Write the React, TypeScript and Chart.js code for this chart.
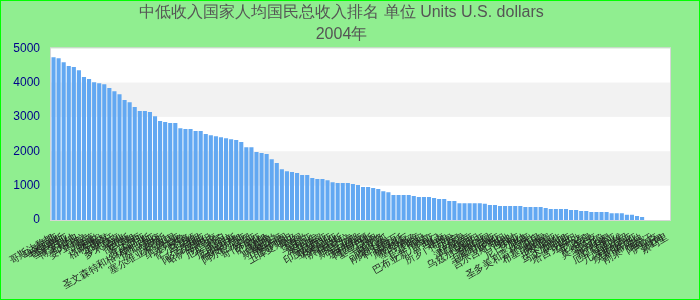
import React, { useEffect, useRef } from "react";
import { Chart, registerables } from "chart.js";

Chart.register(...registerables);

const TITLE_LINE_1 = "中低收入国家人均国民总收入排名 单位 Units U.S. dollars";
const TITLE_LINE_2 = "2004年";

const COUNTRIES: string[] = [
  "哥斯达黎加", "马来西亚", "毛里求斯", "圣卢西亚", "博茨瓦纳", "巴拿马", "委内瑞拉", "乌拉圭", "加蓬", "伯利兹",
  "格林纳达", "土耳其", "阿根廷", "多米尼克", "南非", "俄罗斯", "牙买加", "巴西", "罗马尼亚", "圣文森特和格林纳丁斯",
  "保加利亚", "斐济", "突尼斯", "塞尔维亚和黑山", "泰国", "纳米比亚", "秘鲁", "萨尔瓦多", "马其顿", "伊朗",
  "阿尔及利亚", "哈萨克斯坦", "苏里南", "厄瓜多尔", "约旦", "危地马拉", "白俄罗斯", "多米尼加", "阿尔巴尼亚", "波黑",
  "哥伦比亚", "萨摩亚", "汤加", "佛得角", "斯威士兰", "摩洛哥", "瓦努阿图", "土库曼斯坦", "埃及", "中国",
  "乌克兰", "叙利亚", "巴拉圭", "菲律宾", "印度尼西亚", "亚美尼亚", "格鲁吉亚", "洪都拉斯", "安哥拉", "斯里兰卡",
  "圭亚那", "玻利维亚", "阿塞拜疆", "基里巴斯", "不丹", "喀麦隆", "尼加拉瓜", "刚果（布）", "科特迪瓦", "莱索托",
  "摩尔多瓦", "塞内加尔", "印度", "巴基斯坦", "蒙古", "巴布亚新几内亚", "也门", "越南", "所罗门群岛", "苏丹",
  "贝宁", "科摩罗", "津巴布韦", "肯尼亚", "乌兹别克斯坦", "赞比亚", "孟加拉国", "毛里塔尼亚", "几内亚", "吉尔吉斯斯坦",
  "海地", "老挝", "尼日利亚", "加纳", "多哥", "圣多美和普林西比", "马里", "布基纳法索", "柬埔寨", "坦桑尼亚",
  "中非", "马达加斯加", "冈比亚", "塔吉克斯坦", "乌干达", "尼泊尔", "乍得", "莫桑比克", "尼日尔", "卢旺达",
  "塞拉利昂", "厄立特里亚", "马拉维", "几内亚比绍", "利比里亚", "埃塞俄比亚", "布隆迪", "刚果（金）", "阿富汗", "伊拉克",
  "缅甸", "索马里",
];

const GNI_PER_CAPITA: (number | null)[] = [
  4740, 4710, 4590, 4480, 4450, 4360, 4160, 4100, 4010, 3980,
  3950, 3840, 3750, 3660, 3490, 3430, 3290, 3170, 3170, 3140,
  3020, 2880, 2850, 2820, 2820, 2670, 2650, 2650, 2590, 2590,
  2500, 2470, 2440, 2410, 2380, 2350, 2330, 2270, 2120, 2120,
  1980, 1950, 1920, 1770, 1660, 1480, 1420, 1400, 1370, 1310,
  1310, 1220, 1190, 1190, 1160, 1100, 1080, 1080, 1080, 1050,
  1020, 960, 960, 930, 900, 840, 810, 730, 730, 730,
  730, 700, 670, 670, 670, 640, 610, 610, 550, 550,
  490, 490, 490, 490, 490, 470, 440, 440, 410, 410,
  410, 410, 410, 380, 380, 380, 380, 350, 320, 320,
  320, 320, 290, 290, 260, 260, 230, 230, 230, 230,
  200, 200, 200, 150, 150, 120, 90, null, null, null,
  null, null,
];

const Y_MIN = 0;
const Y_MAX = 5000;
const Y_STEP = 1000;

const bandsPlugin = {
  id: "bands",
  beforeDraw(chart: any) {
    const { ctx, chartArea: a, scales } = chart;
    const y = scales.y;
    ctx.save();
    ctx.fillStyle = "#ffffff";
    ctx.fillRect(a.left, a.top, a.right - a.left, a.bottom - a.top);
    ctx.fillStyle = "#f2f2f2";
    const ticks = y.ticks.map((t: any) => t.value).sort((p: number, q: number) => p - q);
    for (let i = 1; i < ticks.length - 1; i += 2) {
      const top = y.getPixelForValue(ticks[i + 1]);
      const bot = y.getPixelForValue(ticks[i]);
      ctx.fillRect(a.left, top, a.right - a.left, bot - top);
    }
    ctx.strokeStyle = "#d6d6d6";
    ctx.lineWidth = 1;
    ctx.strokeRect(a.left - 0.5, a.top - 0.5, a.right - a.left + 1, a.bottom - a.top + 1);
    ctx.restore();
  },
};

export default function App() {
  const ref = useRef<HTMLCanvasElement | null>(null);

  useEffect(() => {
    document.body.style.margin = "0";
    const canvas = ref.current;
    if (!canvas) return;
    const chart = new Chart(canvas, {
      type: "bar",
      data: {
        labels: COUNTRIES,
        datasets: [
          {
            data: GNI_PER_CAPITA,
            backgroundColor: "#62a8f2",
            borderWidth: 0,
            barPercentage: 0.9,
            categoryPercentage: 0.9,
          },
        ],
      },
      options: {
        responsive: false,
        animation: false,
        devicePixelRatio: 1,
        layout: { padding: { left: 12, right: 29, top: 0, bottom: 0 } },
        font: { family: "'Liberation Sans', Arial, sans-serif" },
        plugins: {
          legend: { display: false },
          tooltip: { enabled: false },
          title: {
            display: true,
            text: [TITLE_LINE_1, TITLE_LINE_2],
            color: "#555555",
            font: { size: 16, weight: "normal", family: "'Liberation Sans', Arial, sans-serif", lineHeight: 1.35 },
            padding: { top: 1, bottom: 3 },
          },
        },
        scales: {
          x: {
            grid: { display: false, drawTicks: true, tickLength: 8 },
            border: { display: false },
            ticks: {
              autoSkip: false,
              minRotation: 30,
              maxRotation: 30,
              color: "#222222",
              font: { size: 10 },
              padding: 3,
            },
            afterFit(scale: any) {
              scale.height = 79;
              scale.paddingLeft = 0;
              scale.paddingRight = 0;
            },
          },
          y: {
            min: Y_MIN,
            max: Y_MAX,
            grid: { display: false, drawTicks: true, tickLength: 8 },
            border: { display: false },
            ticks: {
              stepSize: Y_STEP,
              color: "#00008b",
              font: { size: 12, family: "'Liberation Sans', Arial, sans-serif" },
              padding: 3,
              callback: (v: any) => String(v),
            },
            afterFit(scale: any) {
              scale.width = 38;
              scale.paddingTop = 0;
              scale.paddingBottom = 0;
            },
          },
        },
      },
      plugins: [bandsPlugin],
    });
    return () => chart.destroy();
  }, []);

  return (
    <div
      style={{
        position: "fixed",
        left: 0,
        top: 0,
        width: 700,
        height: 300,
        boxSizing: "border-box",
        border: "1px solid #00ff00",
        background: "#90ee90",
      }}
    >
      <canvas ref={ref} width={698} height={298} style={{ display: "block", width: 698, height: 298 }} />
    </div>
  );
}
